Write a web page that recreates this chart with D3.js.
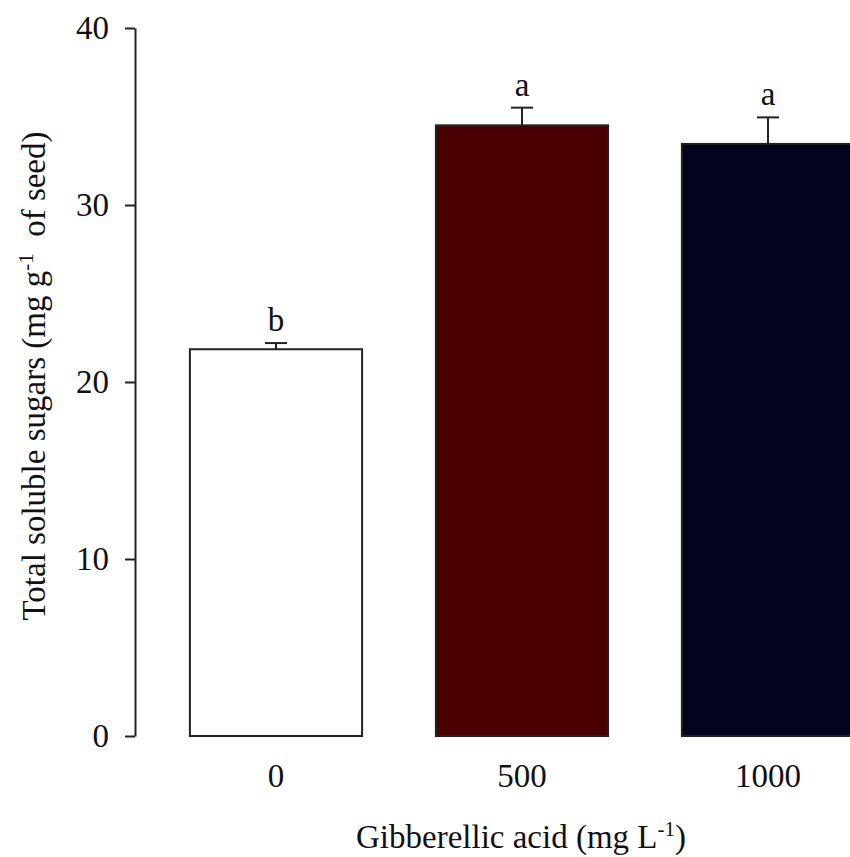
<!DOCTYPE html>
<html>
<head>
<meta charset="utf-8">
<script src="https://cdn.jsdelivr.net/npm/d3@7"></script>
<style>
  body { margin: 0; background: #fff; }
  text { font-family: "Liberation Serif", "Times New Roman", serif; fill: #111; }
</style>
</head>
<body>
<script>
// data
var doses = ["0", "500", "1000"];
var sugars = [21.85, 34.5, 33.45];
var errors = [0.35, 1.0, 1.5];
var letters = ["b", "a", "a"];
var colors = ["#ffffff", "#4a0000", "#03031f"];
var yTicks = [0, 10, 20, 30, 40];

var width = 850, height = 857;

var svg = d3.select("body").append("svg")
  .attr("width", width)
  .attr("height", height);

// scales
var y = d3.scaleLinear().domain([0, 40]).range([736, 28]);
var x = d3.scaleBand().domain(doses)
  .range([153, 891])
  .paddingInner(0.3)
  .paddingOuter(0.15);

// y axis
var yAxis = svg.append("g")
  .attr("transform", "translate(135,0)")
  .call(d3.axisLeft(y).tickValues(yTicks).tickSize(10).tickPadding(16).tickSizeOuter(0));
yAxis.select(".domain").attr("stroke", "#222").attr("stroke-width", 2);
yAxis.selectAll(".tick line").attr("stroke", "#222").attr("stroke-width", 2);
yAxis.selectAll(".tick text")
  .style("font-family", "'Liberation Serif', serif")
  .style("font-size", "33px")
  .attr("fill", "#111");

// bars
svg.selectAll("rect.bar")
  .data(doses)
  .enter().append("rect")
  .attr("class", "bar")
  .attr("x", function (d) { return x(d); })
  .attr("y", function (d, i) { return y(sugars[i]); })
  .attr("width", x.bandwidth())
  .attr("height", function (d, i) { return y(0) - y(sugars[i]); })
  .attr("fill", function (d, i) { return colors[i]; })
  .attr("stroke", "#222")
  .attr("stroke-width", 2);

// error bars (upper only)
var eb = svg.append("g");
doses.forEach(function (d, i) {
  var cx = x(d) + x.bandwidth() / 2;
  eb.append("line")
    .attr("x1", cx).attr("x2", cx)
    .attr("y1", y(sugars[i])).attr("y2", y(sugars[i] + errors[i]))
    .attr("stroke", "#222").attr("stroke-width", 2);
  eb.append("line")
    .attr("x1", cx - 11).attr("x2", cx + 11)
    .attr("y1", y(sugars[i] + errors[i])).attr("y2", y(sugars[i] + errors[i]))
    .attr("stroke", "#222").attr("stroke-width", 2);
  svg.append("text")
    .attr("x", cx)
    .attr("y", y(sugars[i] + errors[i]) - 12)
    .attr("text-anchor", "middle")
    .style("font-size", "33px")
    .text(letters[i]);
});

// x tick labels
svg.selectAll("text.xlab")
  .data(doses)
  .enter().append("text")
  .attr("class", "xlab")
  .attr("x", function (d) { return x(d) + x.bandwidth() / 2; })
  .attr("y", 787)
  .attr("text-anchor", "middle")
  .style("font-size", "33px")
  .text(function (d) { return d; });

// x axis title
var xt = svg.append("text")
  .attr("x", 521)
  .attr("y", 848)
  .attr("text-anchor", "middle")
  .style("font-size", "33px");
xt.append("tspan").text("Gibberellic acid (mg L");
xt.append("tspan").attr("dy", -12).style("font-size", "21px").text("-1");
xt.append("tspan").attr("dy", 12).text(")");

// y axis title
var yt = svg.append("text")
  .attr("transform", "translate(45,376) rotate(-90)")
  .attr("text-anchor", "middle")
  .style("font-size", "33px")
  .attr("xml:space", "preserve");
yt.append("tspan").text("Total soluble sugars (mg g");
yt.append("tspan").attr("dy", -12).style("font-size", "21px").text("-1");
yt.append("tspan").attr("dy", 12).text("  of seed)");
</script>
</body>
</html>
